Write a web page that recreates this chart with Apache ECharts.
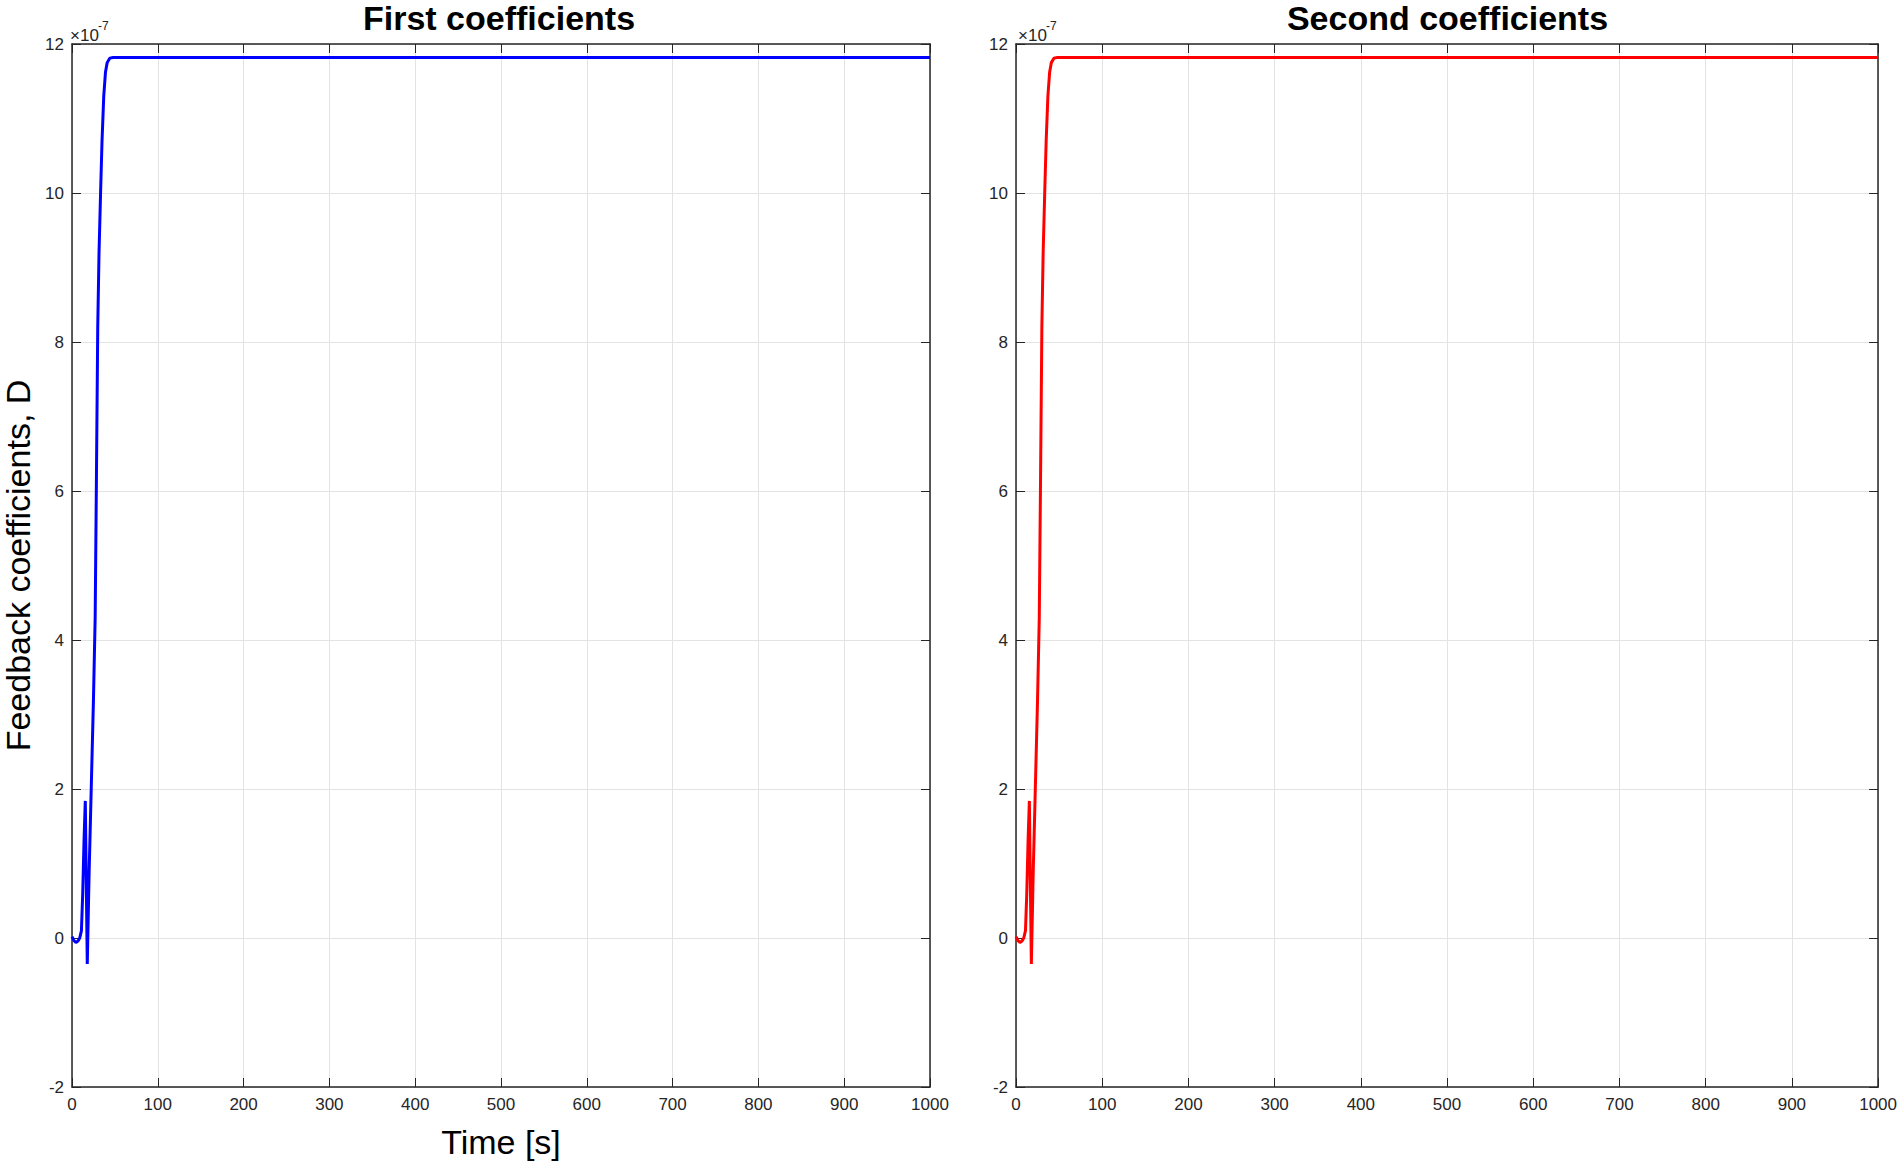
<!DOCTYPE html>
<html>
<head>
<meta charset="utf-8">
<title>Feedback coefficients</title>
<script src="https://cdn.jsdelivr.net/npm/echarts@6.0.0/dist/echarts.min.js"></script>
<style>
  html, body { margin: 0; padding: 0; background: #fff; }
  #chart { width: 1900px; height: 1165px; }
</style>
</head>
<body>
<div id="chart"></div>
<script>
// values, y in units of 1e-7
const timeSec = [0, 2, 4.5, 7, 9, 11, 12.5, 14, 15.5, 17.8, 20, 22.4, 25, 27, 28.5, 30, 31.5, 33.3, 35, 37, 39, 41, 44, 48, 1000];
const firstCoef = [0.02, -0.03, -0.06, -0.04, 0.0, 0.1, 0.6, 1.3, 1.84, -0.35, 0.9, 2.0, 3.2, 4.3, 6.2, 8.2, 9.2, 10.0, 10.7, 11.3, 11.62, 11.75, 11.81, 11.82, 11.82];
const secondCoef = [0.02, -0.03, -0.06, -0.04, 0.0, 0.1, 0.6, 1.3, 1.84, -0.35, 0.9, 2.0, 3.2, 4.3, 6.2, 8.2, 9.2, 10.0, 10.7, 11.3, 11.62, 11.75, 11.81, 11.82, 11.82];
const panelTitles = ["First coefficients", "Second coefficients"];
const xRange = { min: 0, max: 1000, interval: 100 };
const yRange = { min: -2, max: 12, interval: 2 };

const FONT = "'Liberation Sans', Arial, Helvetica, sans-serif";
const INK = "#262626";

const chart = echarts.init(document.getElementById("chart"), null, { renderer: "svg" });

const grids = [
  { left: 68, top: 44, width: 862, height: 1043 },
  { left: 1016, top: 44, width: 863, height: 1043 }
];

const tick = { show: true, inside: true, length: 9, lineStyle: { color: INK, width: 1 } };
const line = { show: true, onZero: false, lineStyle: { color: INK, width: 1.5 } };
const plain = (v) => String(v);

const xAxes = [];
const yAxes = [];
grids.forEach((g, i) => {
  // bottom axis with labels
  xAxes.push({
    type: "value", gridIndex: i, position: "bottom",
    min: xRange.min, max: xRange.max, interval: xRange.interval,
    axisLine: line, axisTick: tick,
    axisLabel: { color: INK, fontSize: 17, fontFamily: FONT, margin: 9, formatter: plain },
    splitLine: { show: true, lineStyle: { color: "#e3e3e3", width: 1 } },
    name: i === 0 ? "Time [s]" : "",
    nameLocation: "middle", nameGap: 38,
    nameTextStyle: { color: "#000", fontSize: 34, fontFamily: FONT }
  });
  // top frame
  xAxes.push({
    type: "value", gridIndex: i, position: "top",
    min: xRange.min, max: xRange.max, interval: xRange.interval,
    axisLine: line, axisTick: tick, axisLabel: { show: false }, splitLine: { show: false }
  });
  yAxes.push({
    type: "value", gridIndex: i, position: "left",
    min: yRange.min, max: yRange.max, interval: yRange.interval,
    axisLine: line, axisTick: tick,
    axisLabel: { color: INK, fontSize: 17, fontFamily: FONT, margin: 8, formatter: plain },
    splitLine: { show: true, lineStyle: { color: "#e3e3e3", width: 1 } },
    name: i === 0 ? "Feedback coefficients, D" : "",
    nameLocation: "middle", nameGap: 37,
    nameTextStyle: { color: "#000", fontSize: 34, fontFamily: FONT }
  });
  yAxes.push({
    type: "value", gridIndex: i, position: "right",
    min: yRange.min, max: yRange.max, interval: yRange.interval,
    axisLine: line, axisTick: tick, axisLabel: { show: false }, splitLine: { show: false }
  });
});

const toPairs = (vals) => vals.map((v, i) => [timeSec[i], v]);

const option = {
  backgroundColor: "#fff",
  animation: false,
  title: grids.map((g, i) => ({
    text: panelTitles[i],
    left: g.left + g.width / 2,
    top: 0,
    padding: 0,
    textAlign: "center",
    textStyle: { color: "#000", fontSize: 34, fontWeight: "bold", fontFamily: FONT, lineHeight: 35 }
  })),
  graphic: grids.flatMap((g) => [
    { type: "text", x: g.left + 2, y: 35,
      style: { text: "×10", fontSize: 17, fontFamily: FONT, fill: INK, verticalAlign: "middle" } },
    { type: "text", x: g.left + 30, y: 26,
      style: { text: "-7", fontSize: 12, fontFamily: FONT, fill: INK, verticalAlign: "middle" } }
  ]),
  grid: grids,
  xAxis: xAxes,
  yAxis: yAxes,
  series: [
    {
      name: panelTitles[0], type: "line", xAxisIndex: 0, yAxisIndex: 0,
      data: toPairs(firstCoef), showSymbol: false,
      lineStyle: { color: "#0000ff", width: 3 }, itemStyle: { color: "#0000ff" }
    },
    {
      name: panelTitles[1], type: "line", xAxisIndex: 2, yAxisIndex: 2,
      data: toPairs(secondCoef), showSymbol: false,
      lineStyle: { color: "#ff0000", width: 3 }, itemStyle: { color: "#ff0000" }
    }
  ]
};

chart.setOption(option);
</script>
</body>
</html>
